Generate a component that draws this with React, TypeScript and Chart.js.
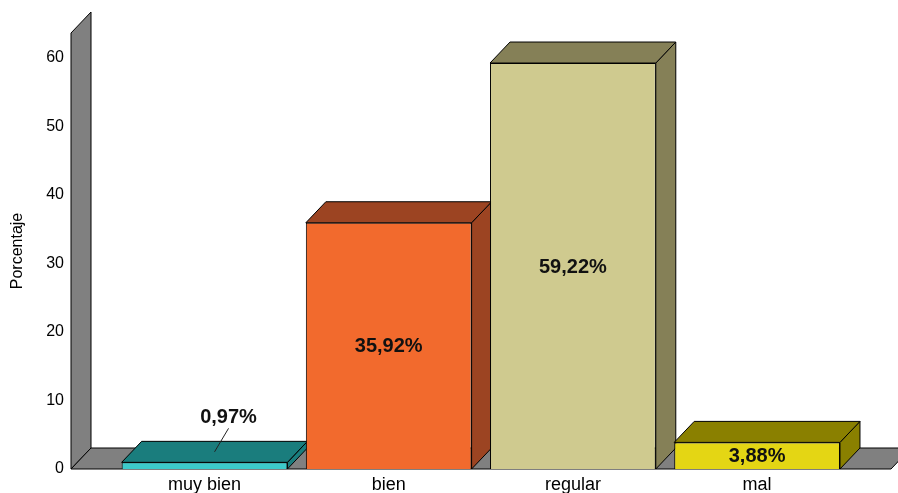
import React, { useEffect, useRef } from "react";
import { Chart, registerables } from "chart.js";

Chart.register(...registerables);

const categories = ["muy bien", "bien", "regular", "mal"];
const percentages = [0.97, 35.92, 59.22, 3.88];
const valueLabels = ["0,97%", "35,92%", "59,22%", "3,88%"];
const yTicks = [0, 10, 20, 30, 40, 50, 60];

const frontColors = ["#3ccaca", "#f26a2d", "#cfca8f", "#e4d614"];
const depthColors = ["#1a7d7d", "#9c4422", "#858057", "#8a8000"];
const wallColor = "#808080";

const DX = 20;
const DY = 21;
const FONT = "'Liberation Sans', Arial, sans-serif";

const depthPlugin = {
  id: "depth3d",
  beforeDatasetsDraw(chart: any) {
    const { ctx, chartArea } = chart;
    const yScale = chart.scales.y;
    const xScale = chart.scales.x;
    const left = chartArea.left;
    const bottom = yScale.getPixelForValue(0);
    const top = yScale.getPixelForValue(yScale.max);
    const right = xScale.getPixelForValue(xScale.max);
    ctx.save();
    ctx.lineWidth = 1;
    ctx.strokeStyle = "#000";
    ctx.lineJoin = "miter";
    // wall
    ctx.fillStyle = wallColor;
    ctx.beginPath();
    ctx.moveTo(left, bottom);
    ctx.lineTo(left, top);
    ctx.lineTo(left + DX, top - DY);
    ctx.lineTo(left + DX, bottom - DY);
    ctx.closePath();
    ctx.fill();
    ctx.stroke();
    // floor
    ctx.beginPath();
    ctx.moveTo(left, bottom);
    ctx.lineTo(left + DX, bottom - DY);
    ctx.lineTo(right + DX, bottom - DY);
    ctx.lineTo(right, bottom);
    ctx.closePath();
    ctx.fill();
    ctx.stroke();
    // bar depth faces
    const meta = chart.getDatasetMeta(0);
    meta.data.forEach((el: any, i: number) => {
      const { x, y, base, width } = el.getProps(["x", "y", "base", "width"], true);
      const l = x - width / 2;
      const r = x + width / 2;
      ctx.fillStyle = depthColors[i];
      // side
      ctx.beginPath();
      ctx.moveTo(r, y);
      ctx.lineTo(r + DX, y - DY);
      ctx.lineTo(r + DX, base - DY);
      ctx.lineTo(r, base);
      ctx.closePath();
      ctx.fill();
      ctx.stroke();
      // top
      ctx.beginPath();
      ctx.moveTo(l, y);
      ctx.lineTo(l + DX, y - DY);
      ctx.lineTo(r + DX, y - DY);
      ctx.lineTo(r, y);
      ctx.closePath();
      ctx.fill();
      ctx.stroke();
    });
    ctx.restore();
  },
  afterDatasetsDraw(chart: any) {
    const { ctx } = chart;
    const meta = chart.getDatasetMeta(0);
    ctx.save();
    ctx.font = `bold 20px ${FONT}`;
    ctx.fillStyle = "#111";
    ctx.textAlign = "center";
    ctx.textBaseline = "middle";
    meta.data.forEach((el: any, i: number) => {
      const { x, y, base } = el.getProps(["x", "y", "base"], true);
      const h = base - y;
      if (h > 22) {
        ctx.fillText(valueLabels[i], x, (y + base) / 2 + 1);
      } else {
        ctx.strokeStyle = "#222";
        ctx.lineWidth = 1;
        ctx.beginPath();
        ctx.moveTo(x + DX / 2, y - DY / 2);
        ctx.lineTo(x + 24, y - 34);
        ctx.stroke();
        ctx.fillText(valueLabels[i], x + 24, y - 45);
      }
    });
    ctx.restore();
  },
};

export default function App() {
  const ref = useRef<HTMLCanvasElement | null>(null);
  useEffect(() => {
    document.body.style.margin = "0";
    const canvas = ref.current;
    if (!canvas) return;
    const chart = new Chart(canvas, {
      type: "bar",
      data: {
        datasets: [
          {
            data: percentages.map((v, i) => ({ x: i, y: v })),
            backgroundColor: frontColors,
            borderColor: "#000",
            borderWidth: 1,
            barPercentage: 0.9,
            categoryPercentage: 1,
          },
        ],
      },
      options: {
        responsive: false,
        animation: false,
        devicePixelRatio: 1,
        layout: { padding: { top: 33, right: 7, bottom: 0, left: 0 } },
        plugins: {
          legend: { display: false },
          tooltip: { enabled: false },
          title: { display: false },
        },
        scales: {
          x: {
            type: "linear",
            offset: false,
            min: -0.725,
            max: 3.727,
            grid: { display: false, drawTicks: false, offset: false },
            border: { display: false },
            afterFit: (s: any) => {
              s.height = 24;
            },
            afterBuildTicks: (s: any) => {
              s.ticks = categories.map((_, i) => ({ value: i }));
            },
            ticks: {
              autoSkip: false,
              maxRotation: 0,
              padding: 5,
              color: "#000",
              font: { family: FONT, size: 18 },
              callback: (v: any) => categories[v] ?? "",
            },
          },
          y: {
            type: "linear",
            min: 0,
            max: 63.6,
            grid: { display: false, drawTicks: false },
            border: { display: false },
            afterFit: (s: any) => {
              s.width = 71;
            },
            afterBuildTicks: (s: any) => {
              s.ticks = yTicks.map((v) => ({ value: v }));
            },
            ticks: {
              padding: 7,
              color: "#000",
              font: { family: FONT, size: 16 },
            },
            title: {
              display: true,
              text: "Porcentaje",
              color: "#000",
              padding: { top: 8, bottom: 0 },
              font: { family: FONT, size: 16 },
            },
          },
        },
      },
      plugins: [depthPlugin],
    });
    return () => chart.destroy();
  }, []);
  return (
    <div style={{ width: 898, height: 493 }}>
      <canvas ref={ref} width={898} height={493} />
    </div>
  );
}
